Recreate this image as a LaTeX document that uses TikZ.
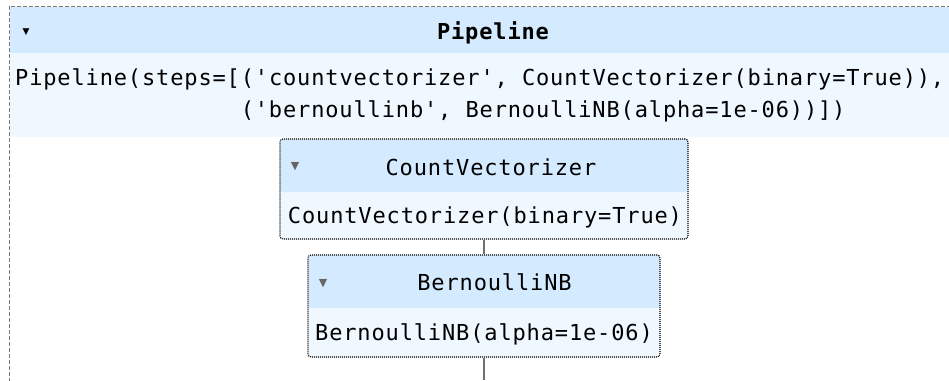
\documentclass[tikz,border=0pt]{standalone}
\usepackage{fontspec}
\newfontfamily\mono[LetterSpace=3.9]{DejaVu Sans Mono}
\newfontfamily\symf{DejaVu Sans}
\definecolor{hdr}{HTML}{D4EBFF}
\definecolor{bdy}{HTML}{F0F8FF}
\definecolor{framegray}{HTML}{7A7A7A}
\definecolor{trigray}{HTML}{666666}
\definecolor{conngray}{HTML}{707070}
\tikzset{
  codetext/.style={inner sep=0pt, font=\mono\fontsize{22}{32}\selectfont, text=black},
  estbox/.style={draw=black, line width=1.1pt, dash pattern=on 1pt off 1pt,
    rounded corners=3pt, fill=bdy, inner sep=0pt,
    path picture={\fill[hdr] (path picture bounding box.north west) rectangle ([yshift=-53pt]path picture bounding box.north east);}},
  toggle/.style={inner sep=0pt, font=\symf\fontsize{9}{9}\selectfont},
  conn/.style={draw=conngray, line width=1.3pt},
}
\begin{document}
\begin{tikzpicture}[x=1pt,y=-1pt]
\useasboundingbox (0,0) rectangle (949,380);
\fill[white] (0,0) rectangle (949,380);
% pipeline container
\fill[hdr] (9.5,6.5) rectangle (949,53);
\fill[bdy] (9.5,53) rectangle (949,137);
\draw[framegray, line width=1pt, dash pattern=on 4pt off 2pt] (9,400) -- (9,6) -- (960,6);
\node[toggle, text=black] (ptog) at (26,32) {▼};
\node[codetext, anchor=base, font=\mono\bfseries\fontsize{22}{32}\selectfont] (phead) at (493,39.5) {Pipeline};
\node[codetext, anchor=base west] (pline1) at (15,85) {Pipeline(steps=[('countvectorizer', CountVectorizer(binary=True)),};
\node[codetext, anchor=base west] (pline2) at (240.6,117) {('bernoullinb', BernoulliNB(alpha=1e-06))])};
% CountVectorizer
\node[estbox, minimum width=408pt, minimum height=100pt] (cv) at (484,189) {};
\node[toggle, text=trigray, font=\symf\fontsize{11}{11}\selectfont] (cvtog) at (295,167) {▼};
\node[codetext, anchor=base] (cvh) at (491,175) {CountVectorizer};
\node[codetext, anchor=base] (cvb) at (485,223) {CountVectorizer(binary=True)};
% BernoulliNB
\node[estbox, minimum width=352pt, minimum height=102pt] (bn) at (484,306) {};
\node[toggle, text=trigray, font=\symf\fontsize{11}{11}\selectfont] (bntog) at (323,284) {▼};
\node[codetext, anchor=base] (bnh) at (494.5,290) {BernoulliNB};
\node[codetext, anchor=base] (bnb) at (484,340) {BernoulliNB(alpha=1e-06)};
% connectors
\coordinate (tail) at (484,380);
\draw[conn] (cv.south) -- (bn.north);
\draw[conn] (bn.south) -- (tail);
\end{tikzpicture}
\end{document}
